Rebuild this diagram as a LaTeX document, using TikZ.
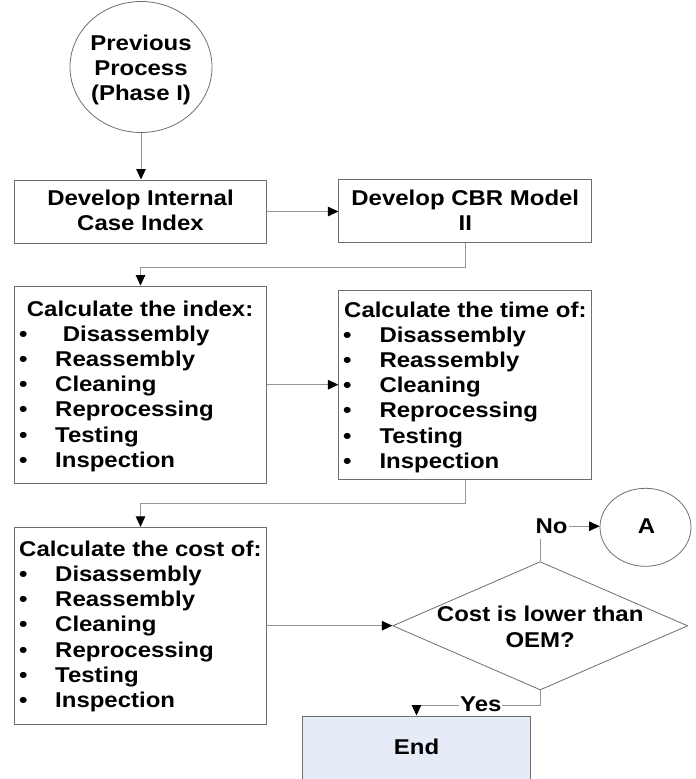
\documentclass[tikz,border=0pt]{standalone}
\usepackage{fontspec}
\setmainfont{Liberation Sans}[FakeStretch=1.12]
\usetikzlibrary{shapes.geometric,arrows.meta}
\definecolor{boxgrey}{RGB}{110,110,110}
\definecolor{linegrey}{RGB}{150,150,150}
\definecolor{endfill}{RGB}{230,236,247}
\begin{document}
\begin{tikzpicture}[x=1pt,y=-1pt,
  txt/.style={inner sep=0pt, font=\fontsize{21.4}{25}\selectfont\bfseries},
  boxnode/.style={draw=boxgrey, line width=1pt, rectangle, inner sep=0pt},
  conn/.style={draw=linegrey, line width=1pt},
  arr/.style={conn, -{Triangle[length=10.5pt,width=9.5pt,color=black]}}]
\useasboundingbox (0,0) rectangle (696,779);
\clip (0,0) rectangle (696,779);

% start ellipse
\node[ellipse, draw=boxgrey, line width=0.8pt, minimum width=142pt, minimum height=131pt, inner sep=0pt] (prev) at (141,67) {};
\node[txt, anchor=base] (prev1) at (141,50) {Previous};
\node[txt, anchor=base] (prev2) at (141,75) {Process};
\node[txt, anchor=base] (prev3) at (141,100) {(Phase I)};

% top boxes
\node[boxnode, minimum width=252.4pt, minimum height=63pt] (box1) at (140.5,211.5) {};
\node[txt, anchor=base] (box1a) at (140.5,205) {Develop Internal};
\node[txt, anchor=base] (box1b) at (140.5,230) {Case Index};
\node[boxnode, minimum width=252.7pt, minimum height=62.7pt] (box2) at (465.3,211.3) {};
\node[txt, anchor=base] (box2a) at (465.3,205) {Develop CBR Model};
\node[txt, anchor=base] (box2b) at (465.3,230) {II};

% list boxes
\node[boxnode, minimum width=252.4pt, minimum height=197.3pt] (box3) at (140.5,384.7) {};
\node[txt, anchor=base west] (box3t) at (26.7,316) {Calculate the index:};
\foreach \t/\xx [count=\i] in {Disassembly/62.7,Reassembly/55,Cleaning/55,Reprocessing/55,Testing/55,Inspection/55}{
  \node[txt, anchor=base west] (b3b\i) at (19,316+25.2*\i) {•};
  \node[txt, anchor=base west] (b3i\i) at (\xx,316+25.2*\i) {\t};
}
\node[boxnode, minimum width=252.7pt, minimum height=189.3pt] (box4) at (465.3,385.3) {};
\node[txt, anchor=base west] (box4t) at (344,317) {Calculate the time of:};
\foreach \t [count=\i] in {Disassembly,Reassembly,Cleaning,Reprocessing,Testing,Inspection}{
  \node[txt, anchor=base west] (b4b\i) at (343,317+25.2*\i) {•};
  \node[txt, anchor=base west] (b4i\i) at (379.3,317+25.2*\i) {\t};
}
\node[boxnode, minimum width=252.4pt, minimum height=196.7pt] (box5) at (140.5,625.7) {};
\node[txt, anchor=base west] (box5t) at (19,556) {Calculate the cost of:};
\foreach \t [count=\i] in {Disassembly,Reassembly,Cleaning,Reprocessing,Testing,Inspection}{
  \node[txt, anchor=base west] (b5b\i) at (19,556+25.3*\i) {•};
  \node[txt, anchor=base west] (b5i\i) at (55,556+25.3*\i) {\t};
}

% decision
\node[diamond, draw=boxgrey, line width=0.8pt, minimum width=295pt, minimum height=128.3pt, inner sep=0pt] (dia) at (540.2,625.8) {};
\node[txt, anchor=base] (dia1) at (540.2,621) {Cost is lower than};
\node[txt, anchor=base] (dia2) at (540.2,647) {OEM?};

% connector A
\node[ellipse, draw=boxgrey, line width=0.8pt, minimum width=91pt, minimum height=78pt, inner sep=0pt] (conA) at (645.5,527.3) {};
\node[txt, anchor=base] (conAt) at (646.5,533.5) {A};
\node[txt, anchor=base west, inner xsep=1pt] (no) at (534.3,533.5) {No};

% end
\node[boxnode, fill=endfill, minimum width=227.6pt, minimum height=84pt] (endb) at (416.5,758) {};
\node[txt, anchor=base] (endt) at (416.5,754) {End};

% connectors
\draw[arr] (prev.south) -- (prev.south |- box1.north);
\draw[arr] (box1.east) -- (box1.east -| box2.west);
\draw[arr] (box2.south) -- ++(0,24) -| (box3.north);
\draw[arr] (box3.east) -- (box3.east -| box4.west);
\draw[arr] (box4.south) -- ++(0,23.5) -| (box5.north);
\draw[arr] (box5.east) -- (box5.east -| dia.west);
\draw[conn] (dia.north) -- ++(0,-22.7);
\draw[arr] (no.east) -- (no.east -| conA.west);
\draw[arr] (dia.south) -- ++(0,15) -| (endb.north);
\node[txt, anchor=base, fill=white, inner xsep=1pt, inner ysep=1pt] (yes) at (480.8,711.7) {Yes};
\end{tikzpicture}
\end{document}
